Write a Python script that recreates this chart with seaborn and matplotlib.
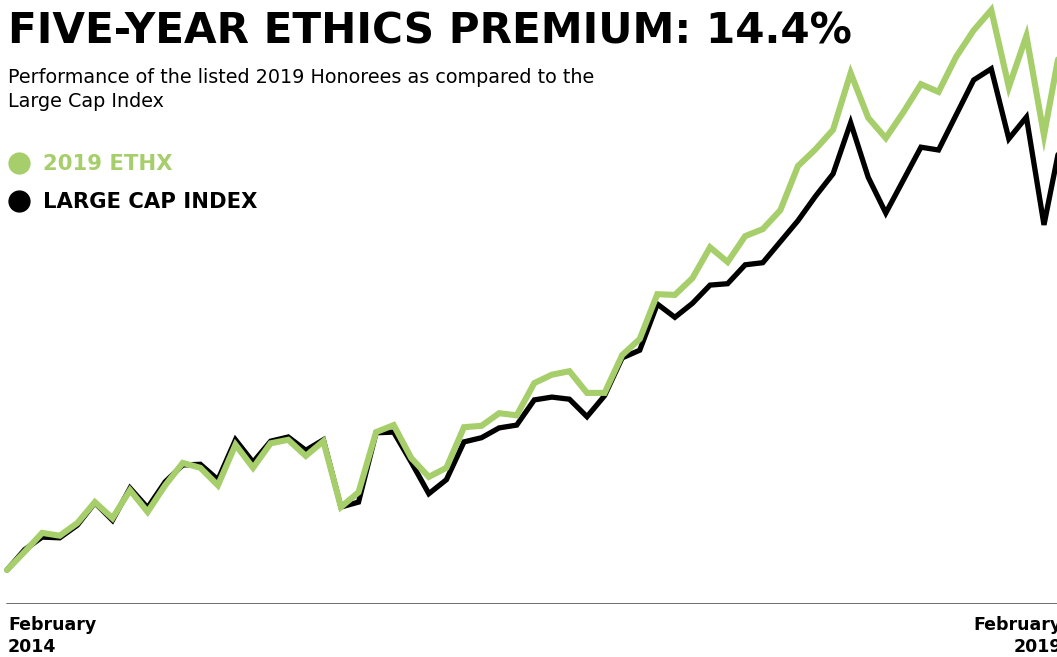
import numpy as np
import pandas as pd
import seaborn as sns
from matplotlib import pyplot as plt
from matplotlib.lines import Line2D

# monthly values, Feb 2014 .. Feb 2019 (start = 100)
months = pd.date_range("2014-02-01", "2019-02-01", freq="MS")
ethx = [100.0, 102.6, 105.3, 104.9, 106.7, 109.7, 107.4, 111.4, 108.3, 112.1,
        115.3, 114.6, 112.1, 117.9, 114.6, 118.1, 118.6, 116.3, 118.4, 109.0,
        111.1, 119.7, 120.7, 116.0, 113.3, 114.6, 120.4, 120.6, 122.4, 122.1,
        126.7, 127.9, 128.4, 125.3, 125.3, 130.7, 133.0, 139.4, 139.3, 141.7,
        146.1, 144.0, 147.7, 148.7, 151.4, 157.7, 160.1, 162.9, 171.0, 164.6,
        161.7, 165.4, 169.4, 168.3, 173.3, 177.1, 180.0, 169.0, 176.3, 162.1,
        175.7]
large_cap = [100.0, 102.9, 104.7, 104.6, 106.4, 109.6, 107.1, 111.7, 108.9, 112.6,
             115.0, 115.1, 112.9, 118.6, 115.4, 118.4, 119.0, 117.1, 118.6, 109.0,
             109.7, 119.6, 119.7, 115.4, 110.9, 112.9, 118.3, 118.9, 120.3, 120.7,
             124.3, 124.7, 124.4, 121.9, 124.9, 130.3, 131.4, 138.0, 136.1, 138.1,
             140.7, 140.9, 143.6, 143.9, 146.9, 149.9, 153.4, 156.6, 163.9, 156.1,
             151.0, 155.7, 160.4, 160.0, 165.0, 170.0, 171.6, 161.6, 164.7, 149.3,
             161.9]
labels = ["2019 ETHX", "LARGE CAP INDEX"]
green = "#A6CE6A"

df = pd.DataFrame({"month": np.arange(len(months)), "ethx": ethx, "large": large_cap})

sns.set_style("white")
plt.rcParams["font.family"] = ["DejaVu Sans"]
plt.rcParams["text.color"] = "black"

W, H = 1057, 657
fig = plt.figure(figsize=(W / 100, H / 100), dpi=100)
ax = fig.add_axes([0, (H - 604) / H, 1, 604 / H])

sns.lineplot(data=df, x="month", y="large", color="black", lw=3.8, ax=ax,
             solid_joinstyle="miter", zorder=2)
sns.lineplot(data=df, x="month", y="ethx", color=green, lw=4.4, ax=ax,
             solid_joinstyle="miter", zorder=3)
for l in ax.lines:
    l.set_clip_on(False)

px = 17.576
ax.set_xlim(-7 / px, (W - 7) / px)
ax.set_ylim(100 - 34 / 7, 100 + 570 / 7)
ax.axis("off")
ax.axhline(100 - 34 / 7, xmin=7 / W, xmax=1, color="#6e6e6e", lw=1.4, zorder=1)

def ftext(x, y, s, **kw):
    fig.text(x / W, 1 - y / H, s, **kw)

ftext(8, 44, "FIVE-YEAR ETHICS PREMIUM: 14.4%", fontsize=30.3, fontweight="bold",
      va="baseline")
ftext(8, 83, "Performance of the listed 2019 Honorees as compared to the",
      fontsize=13.8, va="baseline")
ftext(8, 107, "Large Cap Index", fontsize=13.8, va="baseline")

for (yy, lab, col) in [(163, labels[0], green), (201, labels[1], "black")]:
    fig.add_artist(Line2D([19 / W], [1 - yy / H], marker="o", markersize=15,
                          color=col, transform=fig.transFigure))
    ftext(43, yy + 7, lab, fontsize=15.2, fontweight="bold", color=col, va="baseline")

ftext(8, 630, "February", fontsize=12.5, fontweight="bold", va="baseline")
ftext(8, 652, "2014", fontsize=12.5, fontweight="bold", va="baseline")
ftext(1062, 630, "February", fontsize=12.5, fontweight="bold", va="baseline", ha="right")
ftext(1062, 652, "2019", fontsize=12.5, fontweight="bold", va="baseline", ha="right")

fig.savefig("out.png", dpi=100)
